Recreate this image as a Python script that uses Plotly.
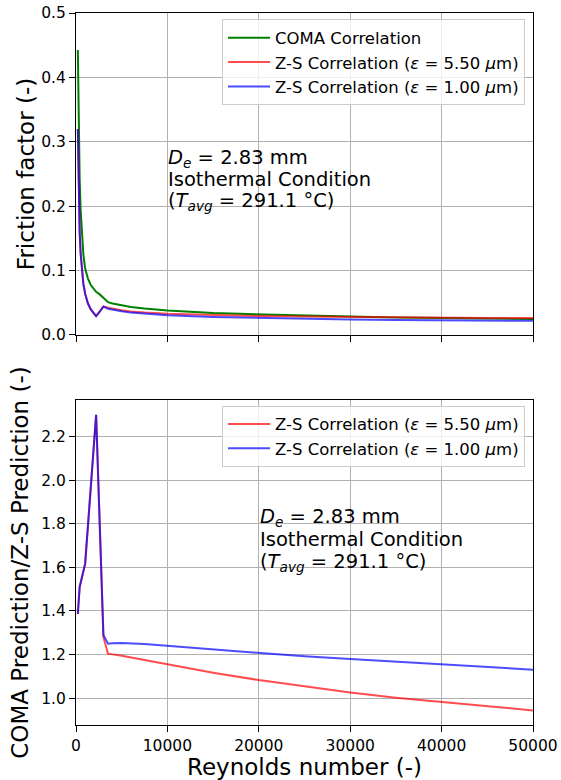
import plotly.graph_objects as go
from plotly.subplots import make_subplots

# ---- data ----
re_top = [200, 300, 400, 500, 600, 800, 1000, 1300, 1600, 1900, 2200, 2600, 3000, 3500,
          4000, 5000, 6000, 7500, 10000, 15000, 20000, 25000, 30000, 35000, 40000, 45000, 50000]
f_coma = [0.4425, 0.309, 0.242, 0.196, 0.165, 0.126, 0.103, 0.088, 0.078, 0.072, 0.067, 0.063,
          0.057, 0.051, 0.049, 0.046, 0.0435, 0.041, 0.038, 0.034, 0.032, 0.030, 0.0285, 0.0273,
          0.0263, 0.0255, 0.0248]
f_zs55 = [0.320, 0.2133, 0.160, 0.128, 0.1067, 0.080, 0.064, 0.0492, 0.040, 0.0337, 0.0291, 0.0365,
          0.0445, 0.0424, 0.0410, 0.0385, 0.0366, 0.0347, 0.0329, 0.0308, 0.0295, 0.0285, 0.0278,
          0.0272, 0.0268, 0.0265, 0.0263]
f_zs10 = [0.320, 0.2133, 0.160, 0.128, 0.1067, 0.080, 0.064, 0.0492, 0.040, 0.0337, 0.0291, 0.0364,
          0.0440, 0.0408, 0.0392, 0.0367, 0.0347, 0.0328, 0.0306, 0.0280, 0.0265, 0.0252, 0.0242,
          0.0234, 0.0228, 0.0223, 0.0219]

re_ratio = [200, 400, 1000, 2200, 3000, 3500, 4000, 5000, 7500, 10000, 15000, 20000, 25000,
            30000, 35000, 40000, 45000, 50000]
ratio_55 = [1.386, 1.51, 1.616, 2.30, 1.28, 1.204, 1.201, 1.195, 1.175, 1.155, 1.117, 1.083,
            1.053, 1.026, 1.002, 0.982, 0.962, 0.944]
ratio_10 = [1.386, 1.51, 1.616, 2.30, 1.29, 1.250, 1.252, 1.253, 1.248, 1.240, 1.222, 1.206,
            1.192, 1.180, 1.167, 1.156, 1.143, 1.131]

x_ticks = [0, 10000, 20000, 30000, 40000, 50000]

lbl_coma = "COMA Correlation"
lbl_55 = "Z-S Correlation (<i>ε</i> = 5.50 <i>μ</i>m)"
lbl_10 = "Z-S Correlation (<i>ε</i> = 1.00 <i>μ</i>m)"
note_lines = ["<i>D</i><sub><i>e</i></sub> = 2.83 mm",
              "Isothermal Condition",
              "(<i>T</i><sub><i>avg</i></sub> = 291.1 °C)"]
note_top_x = 10000
note_top_y = [0.274, 0.2420, 0.2080]
note_bot_x = 20000
note_bot_y = [1.827, 1.728, 1.624]

GREEN = "green"
RED = "rgba(255,0,0,0.7)"
BLUE = "rgba(0,0,255,0.7)"
FONT = "DejaVu Sans"

fig = make_subplots(rows=2, cols=1, vertical_spacing=0.09)

fig.add_trace(go.Scatter(x=re_top, y=f_coma, mode="lines", name=lbl_coma,
                         line=dict(color=GREEN, width=2), legend="legend"), row=1, col=1)
fig.add_trace(go.Scatter(x=re_top, y=f_zs55, mode="lines", name=lbl_55,
                         line=dict(color=RED, width=2), legend="legend"), row=1, col=1)
fig.add_trace(go.Scatter(x=re_top, y=f_zs10, mode="lines", name=lbl_10,
                         line=dict(color=BLUE, width=2), legend="legend"), row=1, col=1)

fig.add_trace(go.Scatter(x=re_ratio, y=ratio_55, mode="lines", name=lbl_55,
                         line=dict(color=RED, width=2), legend="legend2"), row=2, col=1)
fig.add_trace(go.Scatter(x=re_ratio, y=ratio_10, mode="lines", name=lbl_10,
                         line=dict(color=BLUE, width=2), legend="legend2"), row=2, col=1)

axis_common = dict(showline=True, mirror=True, linecolor="black", linewidth=1,
                   ticks="outside", ticklen=6, tickcolor="black", tickwidth=1,
                   showgrid=True, gridcolor="#b0b0b0", gridwidth=1.1, zeroline=False,
                   automargin=False,
                   tickfont=dict(family=FONT, size=15.5, color="black"))
title_font = dict(family=FONT, size=23, color="black")

fig.update_xaxes(range=[0, 50000], tickvals=x_ticks, **axis_common)
fig.update_xaxes(showticklabels=False, row=1, col=1)
fig.update_xaxes(ticktext=[str(v) for v in x_ticks], row=2, col=1,
                 title=dict(text="Reynolds number (-)", font=title_font, standoff=0))
fig.update_yaxes(**axis_common)
fig.update_yaxes(range=[0, 0.5], dtick=0.1, tick0=0, tickformat=".1f", row=1, col=1,
                 title=dict(text="Friction factor (-)", font=title_font, standoff=0))
fig.update_yaxes(range=[0.877, 2.368], dtick=0.2, tick0=1.0, tickformat=".1f", row=2, col=1,
                 title=dict(text="COMA Prediction/Z-S Prediction (-)", font=title_font, standoff=6))

legend_common = dict(xanchor="right", yanchor="top",
                     bgcolor="rgba(255,255,255,0.8)", bordercolor="#cccccc", borderwidth=1,
                     font=dict(family=FONT, size=16.5, color="black"), itemwidth=42)
fig.update_layout(
    width=561, height=780,
    margin=dict(l=76, r=28, t=13, b=55),
    plot_bgcolor="white", paper_bgcolor="white",
    font=dict(family=FONT, color="black"),
    showlegend=True,
    legend=dict(x=0.9825, y=0.991, **legend_common),
    legend2=dict(x=0.9825, y=0.4485, **legend_common),
)
fig.update_yaxes(domain=[0.5478, 1.0], row=1, col=1)
fig.update_yaxes(domain=[0.0, 0.4565], row=2, col=1)

for txt, yv in zip(note_lines, note_top_y):
    fig.add_annotation(text=txt, xref="x", yref="y", x=note_top_x, y=yv, xanchor="left",
                       yanchor="middle", align="left", showarrow=False, borderpad=0,
                       font=dict(family=FONT, size=19.5, color="black"))
for txt, yv in zip(note_lines, note_bot_y):
    fig.add_annotation(text=txt, xref="x2", yref="y2", x=note_bot_x, y=yv, xanchor="left",
                       yanchor="middle", align="left", showarrow=False, borderpad=0,
                       font=dict(family=FONT, size=19.5, color="black"))

fig.write_html("out.html", config={"displayModeBar": False},
               post_script="document.body.style.margin='0px';")
